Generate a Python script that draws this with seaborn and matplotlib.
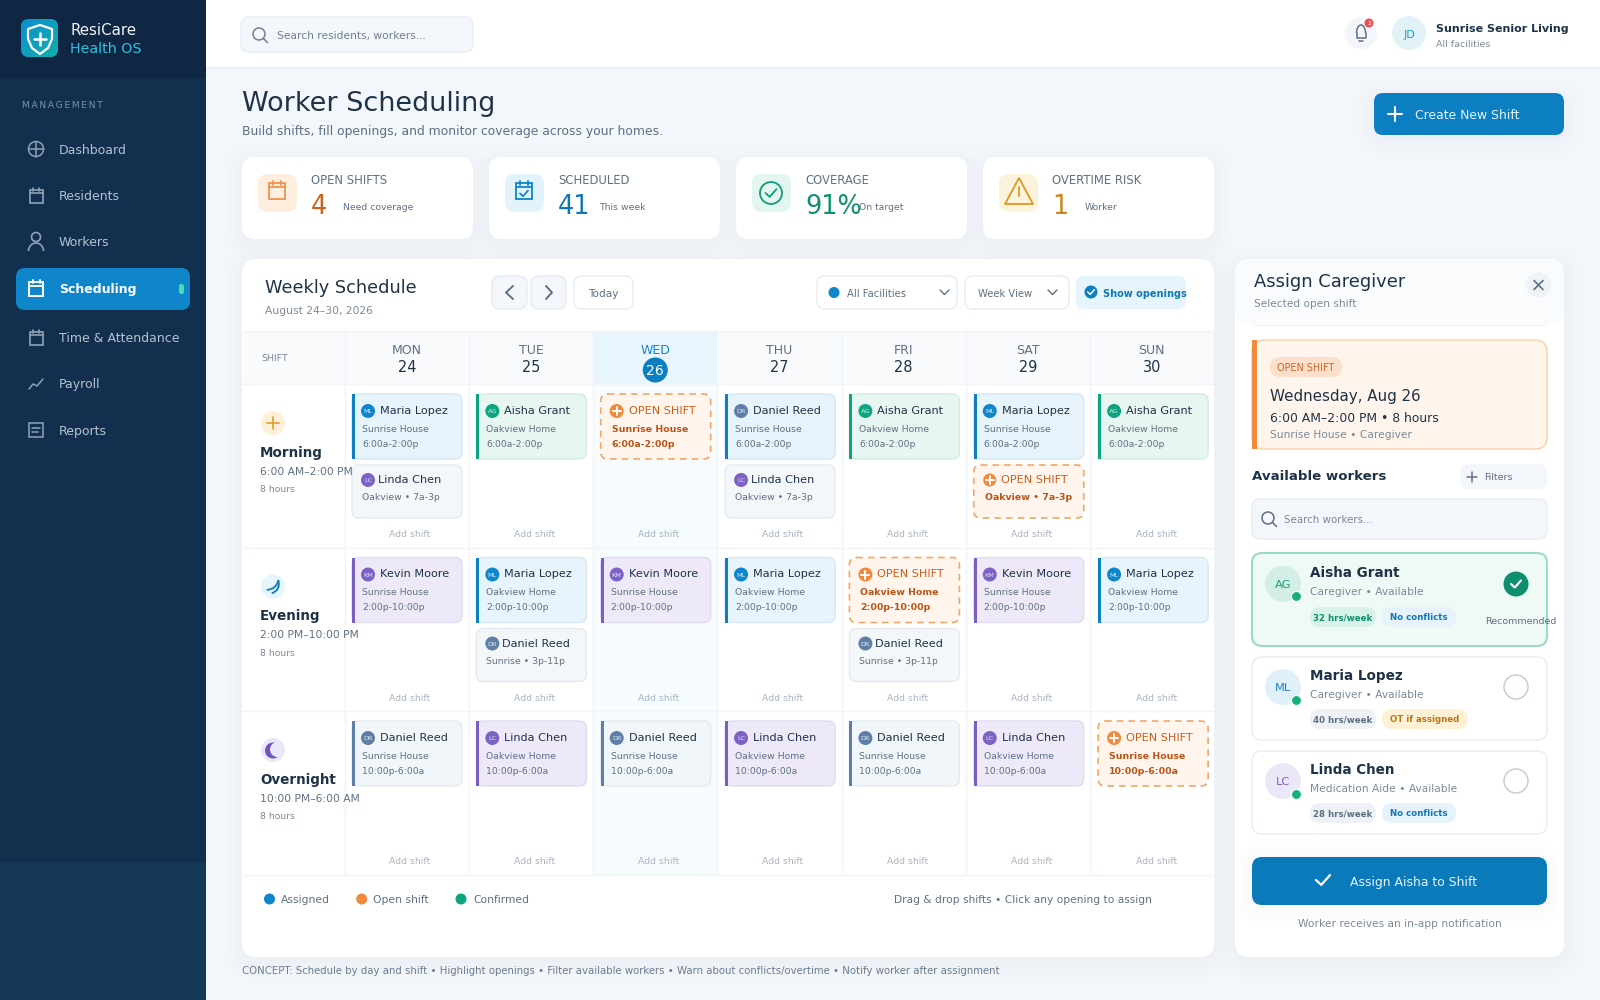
import numpy as np
import pandas as pd
import seaborn as sns
import matplotlib
matplotlib.use("Agg")
import matplotlib.pyplot as plt
from matplotlib.patches import FancyBboxPatch, Circle, Rectangle, Polygon, Arc, PathPatch
from matplotlib.path import Path

# ---- data ----
NAV_ITEMS = ["Dashboard", "Residents", "Workers", "Scheduling", "Time & Attendance", "Payroll", "Reports"]

KPI_LABELS = ["OPEN SHIFTS", "SCHEDULED", "COVERAGE", "OVERTIME RISK"]
KPI_VALUES = ["4", "41", "91%", "1"]
KPI_NOTES = ["Need coverage", "This week", "On target", "Worker"]

DAYS = ["MON", "TUE", "WED", "THU", "FRI", "SAT", "SUN"]
DATES = [24, 25, 26, 27, 28, 29, 30]

SHIFT_NAMES = ["Morning", "Evening", "Overnight"]
SHIFT_TIMES = ["6:00 AM–2:00 PM", "2:00 PM–10:00 PM", "10:00 PM–6:00 AM"]
SHIFT_HOURS = ["8 hours", "8 hours", "8 hours"]
SHIFT_SHORT = ["6:00a-2:00p", "2:00p-10:00p", "10:00p-6:00a"]

MORNING_WORKERS = ["Maria Lopez", "Aisha Grant", "OPEN", "Daniel Reed", "Aisha Grant", "Maria Lopez", "Aisha Grant"]
MORNING_SITES = ["Sunrise House", "Oakview Home", "Sunrise House", "Sunrise House", "Oakview Home", "Sunrise House", "Oakview Home"]
MORNING_EXTRA = ["Linda Chen", None, None, "Linda Chen", None, "OPEN", None]
MORNING_EXTRA_SUB = ["Oakview • 7a-3p", None, None, "Oakview • 7a-3p", None, "Oakview • 7a-3p", None]

EVENING_WORKERS = ["Kevin Moore", "Maria Lopez", "Kevin Moore", "Maria Lopez", "OPEN", "Kevin Moore", "Maria Lopez"]
EVENING_SITES = ["Sunrise House", "Oakview Home", "Sunrise House", "Oakview Home", "Oakview Home", "Sunrise House", "Oakview Home"]
EVENING_EXTRA = [None, "Daniel Reed", None, None, "Daniel Reed", None, None]
EVENING_EXTRA_SUB = [None, "Sunrise • 3p-11p", None, None, "Sunrise • 3p-11p", None, None]

NIGHT_WORKERS = ["Daniel Reed", "Linda Chen", "Daniel Reed", "Linda Chen", "Daniel Reed", "Linda Chen", "OPEN"]
NIGHT_SITES = ["Sunrise House", "Oakview Home", "Sunrise House", "Oakview Home", "Sunrise House", "Oakview Home", "Sunrise House"]
NIGHT_EXTRA = [None] * 7
NIGHT_EXTRA_SUB = [None] * 7

ALL_WORKERS = [MORNING_WORKERS, EVENING_WORKERS, NIGHT_WORKERS]
ALL_SITES = [MORNING_SITES, EVENING_SITES, NIGHT_SITES]
ALL_EXTRA = [MORNING_EXTRA, EVENING_EXTRA, NIGHT_EXTRA]
ALL_EXTRA_SUB = [MORNING_EXTRA_SUB, EVENING_EXTRA_SUB, NIGHT_EXTRA_SUB]

LEGEND_LABELS = ["Assigned", "Open shift", "Confirmed"]

PANEL_WORKERS = ["Aisha Grant", "Maria Lopez", "Linda Chen"]
PANEL_ROLES = ["Caregiver • Available", "Caregiver • Available", "Medication Aide • Available"]
PANEL_HOURS = ["32 hrs/week", "40 hrs/week", "28 hrs/week"]
PANEL_FLAGS = ["No conflicts", "OT if assigned", "No conflicts"]

# ---- colours ----
CARD_STYLE = {  # fill, border, bar
    "Maria Lopez": ("#e8f4fb", "#d3e8f4", "#0e7fc0"),
    "Aisha Grant": ("#e8f6f1", "#d3ece2", "#0ea47f"),
    "Kevin Moore": ("#ede9f8", "#e0daf2", "#7a5fc0"),
    "Linda Chen": ("#ede9f8", "#e0daf2", "#7a5fc0"),
    "Daniel Reed": ("#f1f6fa", "#e4eaf1", "#5f7fa8"),
}
AVATAR = {"Maria Lopez": "#0e86c9", "Aisha Grant": "#0ea47f", "Kevin Moore": "#7d62c4",
          "Linda Chen": "#7d62c4", "Daniel Reed": "#5f7fa8"}
DARK = "#1f3347"
GRAY = "#5e7082"
LIGHT = "#7b8a99"
ORANGE = "#f08a3c"
BLUE = "#0b7fc1"
GRID = "#f0f3f7"

sns.set_theme(style="white")
plt.rcParams["font.family"] = "DejaVu Sans"

fig = plt.figure(figsize=(16, 10), dpi=100)
ax = fig.add_axes([0, 0, 1, 1])
ax.set_xlim(0, 1600)
ax.set_ylim(1000, 0)
ax.set_axis_off()
ax.autoscale(False)


def txt(x, y, s, px=12, color=DARK, weight="normal", ha="left", z=4):
    # y is the middle of the capitals, size in pixels
    ax.text(x, y + 0.365 * px, s, fontsize=px * 0.72, color=color, fontweight=weight,
            ha=ha, va="baseline", zorder=z)


def box(x0, y0, x1, y1, r=8, fc="white", ec="none", lw=1, ls="-", z=1, alpha=None):
    p = FancyBboxPatch((x0, y0), x1 - x0, y1 - y0, boxstyle=f"round,pad=0,rounding_size={r}",
                       fc=fc, ec=ec, lw=lw, ls=ls, zorder=z, alpha=alpha)
    ax.add_patch(p)
    return p


def shadow(x0, y0, x1, y1, r=14, dy=5):
    for k in range(16, 0, -3):
        box(x0 - k, y0 - k + dy, x1 + k, y1 + k + dy, r=r + k, fc="#1f3a5a", alpha=0.005, z=1)


def rect(x0, y0, x1, y1, fc, z=1):
    ax.add_patch(Rectangle((x0, y0), x1 - x0, y1 - y0, fc=fc, ec="none", zorder=z))


def circ(x, y, r, fc="none", ec="none", lw=1, z=2):
    ax.add_patch(Circle((x, y), r, fc=fc, ec=ec, lw=lw, zorder=z))


def line(xs, ys, color, lw=1.3, z=3, ls="-"):
    ax.plot(xs, ys, color=color, lw=lw, zorder=z, ls=ls, solid_capstyle="round", solid_joinstyle="round")


def plus(x, y, h, color, lw=1.3, z=3):
    line([x - h, x + h], [y, y], color, lw, z)
    line([x, x], [y - h, y + h], color, lw, z)


def check(x, y, h, color, lw=1.5, z=3):
    line([x - h, x - h * 0.25, x + h], [y, y + h * 0.7, y - h * 0.7], color, lw, z)


def calendar(x, y, h, color, lw=1.2, ticked=False):
    ax.add_patch(Rectangle((x - h, y - h), 2 * h, 2 * h, fc="none", ec=color, lw=lw, zorder=3))
    line([x - h, x + h], [y - h * 0.45, y - h * 0.45], color, lw)
    line([x - h * 0.5, x - h * 0.5], [y - h * 1.3, y - h * 0.8], color, lw)
    line([x + h * 0.5, x + h * 0.5], [y - h * 1.3, y - h * 0.8], color, lw)
    if ticked:
        check(x, y + h * 0.3, h * 0.5, color, lw)


def magnifier(x, y, color):
    circ(x - 1, y - 1, 6, ec=color, lw=1.1, z=3)
    line([x + 3.5, x + 7.5], [y + 3.5, y + 7.5], color, 1.1)


def pill(x0, y0, x1, y1, s, fc, color, px=8.6, weight="bold"):
    box(x0, y0, x1, y1, r=(y1 - y0) / 2, fc=fc, z=2)
    txt((x0 + x1) / 2, (y0 + y1) / 2, s, px=px, color=color, weight=weight, ha="center")


def initials(name):
    return "".join(part[0] for part in name.split())


# ---- page and sidebar ----
rect(0, 0, 1600, 1000, "#f3f6fa", z=0)
rect(0, 0, 206, 1000, "#122f4e", z=1)
rect(0, 0, 206, 78, "#0f2742", z=1)
rect(0, 862, 206, 1000, "#153758", z=1)

logo = box(21, 19, 58, 57, r=8, fc="#0b9fc4", z=2)
grad = np.linspace(0, 1, 64)[None, :] + np.linspace(0, 1, 64)[:, None]
im = ax.imshow(grad, extent=(21, 58, 57, 19), cmap=matplotlib.colors.LinearSegmentedColormap.from_list(
    "logo", ["#0a8fd0", "#12b0a8"]), aspect="auto", zorder=2)
im.set_clip_path(logo)
ax.set_xlim(0, 1600)
ax.set_ylim(1000, 0)
shield_x = np.array([40, 52, 52, 48, 40, 32, 28, 28])
shield_y = np.array([25, 29, 39, 48, 54, 48, 39, 29])
ax.add_patch(Polygon(np.c_[shield_x, shield_y], closed=True, fc="none", ec="white", lw=1.6, zorder=3, joinstyle="round"))
plus(40, 38.5, 6, "white", 1.8)
txt(70, 30, "ResiCare", px=15, color="#eef5fa")
txt(70, 48, "Health OS", px=14.3, color="#35bfe0")
txt(22, 105, "\u2009".join("MANAGEMENT"), px=9, color="#7c93a8")

nav_y = [149, 195, 241.5, 288.5, 337.5, 383.5, 430]
box(16, 268, 190, 310, r=9, fc="#0e86c9", z=2)
box(179, 284, 184, 294, r=2, fc="#45dcb0", z=3)
for name, y in zip(NAV_ITEMS, nav_y):
    active = name == "Scheduling"
    col = "white" if active else "#b4c3d1"
    txt(59, y, name, px=12.5, color=col, weight="bold" if active else "normal")
ic = "#8fa3b5"
circ(36, 149, 7.5, ec=ic, lw=1.1, z=3)
plus(36, 149, 7.5, ic, 1.1)
calendar(36, 196, 6.5, ic)
circ(36, 237, 4.5, ec=ic, lw=1.2, z=3)
ax.add_patch(Arc((36, 251), 15, 16, theta1=180, theta2=360, ec=ic, lw=1.2, zorder=3))
calendar(36, 289, 7, "white", 1.4)
calendar(36, 338, 6.5, ic)
line([29, 33, 37, 43], [389, 384, 386, 379], ic, 1.1)
ax.add_patch(Rectangle((29, 423), 14, 14, fc="none", ec=ic, lw=1.1, zorder=3))
line([32, 40], [428, 428], ic, 1.1)
line([32, 38], [432, 432], ic, 1.1)

# ---- top bar ----
rect(206, 0, 1600, 67, "white", z=1)
rect(206, 67, 1600, 69, "#ecf0f5", z=1)
box(241, 17, 473, 52, r=8, fc="#f3f6fa", ec="#e8edf3", z=2)
magnifier(260, 35, "#6f8090")
txt(277, 35, "Search residents, workers...", px=10.6, color="#6f8090")
circ(1361, 33, 16, fc="#f3f6fa")
ax.add_patch(Arc((1361, 33), 9, 16, theta1=180, theta2=360, ec=GRAY, lw=1.1, zorder=3))
line([1356.5, 1356.5, 1365.5, 1365.5], [33, 38, 38, 33], GRAY, 1.1)
line([1359, 1363], [40.5, 40.5], GRAY, 1.1)
circ(1369, 23, 4.5, fc="#ea4f4f", z=3)
txt(1369, 23, "2", px=6, color="white", ha="center")
circ(1409, 33, 17, fc="#e2f3f8")
txt(1409, 34, "JD", px=11, color="#1f9ac4", ha="center")
txt(1436, 28, "Sunrise Senior Living", px=11.1, color=DARK, weight="bold")
txt(1436, 44, "All facilities", px=9.5, color=LIGHT)

txt(242, 101, "Worker Scheduling", px=27, color=DARK)
txt(242, 130, "Build shifts, fill openings, and monitor coverage across your homes.", px=12.4, color=GRAY)
shadow(1374, 93, 1564, 135, r=9, dy=3)
box(1374, 93, 1564, 135, r=9, fc=BLUE, z=2)
plus(1395, 114, 7, "white", 1.5)
txt(1415, 114, "Create New Shift", px=12.4, color="#e5f3fb")

# ---- KPI cards ----
kpi_x0 = [242, 489, 736, 983]
kpi_note_x = [343, 599, 859, 1085]
kpi_col = ["#c8621f", "#0e78b5", "#0f8f74", "#c9861a"]
kpi_bg = ["#fdeee0", "#e3f3fb", "#e3f5ef", "#fdf3dc"]
for i in range(4):
    x0 = kpi_x0[i]
    shadow(x0, 157, x0 + 231, 239)
    box(x0, 157, x0 + 231, 239, r=13, fc="white", z=2)
    box(x0 + 16, 174, x0 + 55, 212, r=10, fc=kpi_bg[i], z=2)
    txt(x0 + 69, 180, KPI_LABELS[i], px=11.6, color=GRAY)
    txt(x0 + 69, 205, KPI_VALUES[i], px=25.5, color=kpi_col[i])
    txt(kpi_note_x[i], 207, KPI_NOTES[i], px=9.3, color=GRAY)
calendar(277, 191, 8, "#ee9350", 1.3)
calendar(524, 191, 8, "#0e86c9", 1.3, ticked=True)
circ(771, 193, 11, ec="#129a7c", lw=1.3, z=3)
check(771, 193, 5.5, "#129a7c", 1.3)
ax.add_patch(Polygon([[1019, 178], [1033, 204], [1005, 204]], closed=True, fc="none", ec="#d99a22", lw=1.3, zorder=3, joinstyle="round"))
line([1019, 1019], [187, 196], "#d99a22", 1.3)
line([1019, 1019], [200, 200.3], "#d99a22", 1.3)

# ---- weekly schedule panel ----
shadow(242, 259, 1214, 957)
box(242, 259, 1214, 957, r=14, fc="white", z=1)
txt(265, 287, "Weekly Schedule", px=17.7, color=DARK)
txt(265, 310, "August 24–30, 2026", px=10.7, color=LIGHT)
box(492, 276, 527, 309, r=8, fc="#f3f6fa", ec="#e6ebf1", z=2)
box(531, 276, 566, 309, r=8, fc="#f3f6fa", ec="#e6ebf1", z=2)
box(574, 276, 633, 309, r=8, fc="white", ec="#e6ebf1", z=2)
line([513, 506, 513], [286, 292.5, 299], GRAY, 1.4)
line([546, 552, 546], [286, 292.5, 299], GRAY, 1.4)
txt(603.5, 293, "Today", px=10.5, color=GRAY, ha="center")
box(817, 276, 957, 309, r=8, fc="white", ec="#e6ebf1", z=2)
box(965, 276, 1069, 309, r=8, fc="white", ec="#e6ebf1", z=2)
box(1076, 276, 1186, 309, r=8, fc="#e6f4fb", z=2)
circ(834, 292.5, 5.5, fc="#0e86c9", z=3)
txt(847, 293, "All Facilities", px=10, color=GRAY)
txt(978, 293, "Week View", px=10, color=GRAY)
line([940, 944.5, 949], [290, 294.5, 290], GRAY, 1)
line([1048, 1052.5, 1057], [290, 294.5, 290], GRAY, 1)
circ(1091, 292, 6.5, fc=BLUE, z=3)
check(1091, 292, 3.3, "white", 1.1, z=4)
txt(1103, 293, "Show openings", px=9.8, color="#0e78b5", weight="bold")

# grid
col_x = 345 + 124.14 * np.arange(8)
card_x = 352 + 124.35 * np.arange(7)
row_y = [384, 547.5, 711, 875]
rect(243, 331, 1214, 384, "#f8fafc", z=1)
rect(col_x[2], 331, col_x[3], 384, "#e9f5fc", z=1)
rect(col_x[2], 384, col_x[3], 875, "#f6fbfe", z=1)
line([243, 1214], [331, 331], GRID, 1, z=2)
for y in row_y:
    line([243, 1214], [y, y], GRID, 1, z=2)
for x in col_x[:-1]:
    line([x, x], [331, 875], GRID, 1, z=2)
txt(261, 358, "SHIFT", px=9.5, color=LIGHT)
for i, (d, n) in enumerate(zip(DAYS, DATES)):
    cx = col_x[i] + 62
    today = d == "WED"
    txt(cx, 349, d, px=12.5, color="#0e86c9" if today else GRAY, ha="center")
    if today:
        circ(cx, 370, 12.5, fc=BLUE)
        txt(cx, 370, str(n), px=14, color="white", ha="center")
    else:
        txt(cx, 367, str(n), px=14.5, color=DARK, ha="center")

# row labels
icon_bg = ["#fdf0d9", "#e6f4fb", "#ece7f8"]
for r in range(3):
    dy = row_y[r] - row_y[0]
    circ(273, 423 + dy, 12, fc=icon_bg[r])
    txt(260, 452 + dy, SHIFT_NAMES[r], px=13.5, color=DARK, weight="bold")
    txt(260, 471 + dy, SHIFT_TIMES[r], px=10.7, color=GRAY)
    txt(260, 489 + dy, SHIFT_HOURS[r], px=9.3, color=LIGHT)
plus(273, 423, 6, "#e6a23c", 1.3)
for p0, p1, p2 in [((278.3, 580), (277, 589), (266.7, 590)), ((278.3, 580), (281, 590), (271.7, 593.3))]:
    ax.add_patch(PathPatch(Path([p0, p1, p2], [Path.MOVETO, Path.CURVE3, Path.CURVE3]),
                           fc="none", ec="#1f7fb8", lw=1.4, zorder=3))
circ(273, 750.5, 8, fc="#6d55b8", z=3)
circ(277.5, 749.5, 7.5, fc=icon_bg[2], z=3)

# shift cards
avatar_rows = []
for r in range(3):
    dy = row_y[r] - row_y[0]
    for c in range(7):
        x0 = card_x[c]
        x1 = x0 + 110
        who = ALL_WORKERS[r][c]
        top = 394 + dy
        if who == "OPEN":
            box(x0, top, x1, top + 65, r=7, fc="#fff5ec", ec="#f0a868", lw=1.2, ls=(0, (4, 3)), z=2)
            circ(x0 + 16, top + 17, 7, fc=ORANGE, z=3)
            plus(x0 + 16, top + 17, 4, "white", 1.4, z=4)
            txt(x0 + 28, top + 15.5, "OPEN SHIFT", px=11.2, color="#c4601e")
            txt(x0 + 11, top + 34.5, ALL_SITES[r][c], px=9.4, color="#b8561a", weight="bold")
            txt(x0 + 11, top + 49.5, SHIFT_SHORT[r], px=9.4, color="#b8561a", weight="bold")
        else:
            fc, ec, bar = CARD_STYLE[who]
            if r == 0 and c == 3:  # this Daniel card is blue in the picture
                fc, ec, bar = CARD_STYLE["Maria Lopez"]
            box(x0, top, x1, top + 65, r=7, fc=fc, ec=ec, z=2)
            rect(x0, top, x0 + 3, top + 65, bar, z=3)
            avatar_rows.append((x0 + 16, top + 17, who))
            txt(x0 + 16, top + 17, initials(who), px=6.5, color="#d8e8f2", ha="center")
            txt(x0 + 28, top + 15.5, who, px=11.2, color=DARK)
            txt(x0 + 10, top + 34.5, ALL_SITES[r][c], px=9.3, color=GRAY)
            txt(x0 + 10, top + 49.5, SHIFT_SHORT[r], px=9.3, color=GRAY)
        extra = ALL_EXTRA[r][c]
        top2 = top + 71
        if extra == "OPEN":
            box(x0, top2, x1, top2 + 53, r=7, fc="#fff5ec", ec="#f0a868", lw=1.2, ls=(0, (4, 3)), z=2)
            circ(x0 + 16, top2 + 15, 6.5, fc=ORANGE, z=3)
            plus(x0 + 16, top2 + 15, 3.8, "white", 1.4, z=4)
            txt(x0 + 27, top2 + 14, "OPEN SHIFT", px=11.2, color="#c4601e")
            txt(x0 + 11, top2 + 32, ALL_EXTRA_SUB[r][c], px=9.4, color="#b8561a", weight="bold")
        elif extra:
            box(x0, top2, x1, top2 + 53, r=7, fc="#f3f7fa", ec="#e4eaf1", z=2)
            avatar_rows.append((x0 + 16, top2 + 15, extra))
            txt(x0 + 16, top2 + 15, initials(extra), px=6.5, color="#d8e8f2", ha="center")
            txt(x0 + 26, top2 + 14, extra, px=11.2, color=DARK)
            txt(x0 + 10, top2 + 32, ALL_EXTRA_SUB[r][c], px=9.3, color=GRAY)
        txt(x0 + 58, 534 + dy, "Add shift", px=9.3, color="#a9b4c0", ha="center")

avatars = pd.DataFrame(avatar_rows, columns=["x", "y", "who"])
sns.scatterplot(data=avatars, x="x", y="y", hue="who", palette=AVATAR, s=(14 * 0.72) ** 2,
                linewidth=0, legend=False, ax=ax, zorder=3)

# legend under the grid
legend_df = pd.DataFrame({"x": [269.5, 361.7, 461], "y": [899, 899, 899], "label": LEGEND_LABELS})
sns.scatterplot(data=legend_df, x="x", y="y", hue="label",
                palette=dict(zip(LEGEND_LABELS, ["#0e86c9", ORANGE, "#0ea47f"])),
                s=(11 * 0.72) ** 2, linewidth=0, legend=False, ax=ax, zorder=3)
for x, s in zip([281, 373, 473], LEGEND_LABELS):
    txt(x, 899, s, px=10.8, color=GRAY)
txt(894, 899, "Drag & drop shifts • Click any opening to assign", px=10.6, color=GRAY)
txt(242, 970, "CONCEPT: Schedule by day and shift • Highlight openings • Filter available workers • Warn about conflicts/overtime • Notify worker after assignment",
    px=10.1, color="#6b7c8f")

# ---- assign panel ----
shadow(1235, 259, 1564, 957)
box(1235, 259, 1564, 957, r=14, fc="white", z=1)
box(1235, 259, 1564, 324, r=14, fc="#f9fbfd", z=1)
line([1252, 1547], [324.5, 324.5], GRID, 1, z=2)
txt(1254, 280, "Assign Caregiver", px=17.9, color=DARK)
txt(1254, 303, "Selected open shift", px=10.5, color=LIGHT)
circ(1538.5, 285, 12.5, fc="#eff3f7")
line([1534, 1543], [280.5, 289.5], GRAY, 1.2)
line([1534, 1543], [289.5, 280.5], GRAY, 1.2)

box(1252, 340, 1547, 449, r=12, fc="#fff5ec", ec="#f6cfa9", z=2)
rect(1252, 340, 1257, 449, ORANGE, z=3)
pill(1270, 357, 1342, 377, "OPEN SHIFT", "#fbdfca", "#c4682c", px=9.6, weight="normal")
txt(1270, 395.5, "Wednesday, Aug 26", px=15.1, color=DARK)
txt(1270, 417, "6:00 AM–2:00 PM • 8 hours", px=12.4, color=DARK)
txt(1270, 434, "Sunrise House • Caregiver", px=10.6, color=LIGHT)
txt(1252, 475, "Available workers", px=13.4, color=DARK, weight="bold")
box(1460, 464, 1547, 489, r=8, fc="#f3f6fa", z=2)
plus(1472, 477, 5, GRAY, 1.1)
txt(1484, 477, "Filters", px=9.5, color=GRAY)
box(1252, 499, 1547, 539, r=8, fc="#f3f6fa", ec="#e8edf3", z=2)
magnifier(1269, 519, GRAY)
txt(1284, 519, "Search workers...", px=10.3, color=LIGHT)

card_tops = [553, 657, 751]
card_bottoms = [646, 740, 834]
card_shift = [0.7, 0, 0]  # first card sits a little lower inside its frame
pill_top = [54, 52, 52]
avatar_bg = ["#d3efe5", "#e0f0f9", "#ece7f8"]
avatar_fg = ["#16a085", "#1f82bd", "#7d62c4"]
hour_bg = ["#d8f2e8", "#eef2f6", "#eef2f6"]
hour_fg = ["#0f8f6e", GRAY, GRAY]
flag_bg = ["#e6f3fb", "#fff1d6", "#e6f3fb"]
flag_fg = ["#0e78b5", "#b57a14", "#0e78b5"]
flag_x1 = [1456, 1468, 1456]
status = []
for i in range(3):
    t, b = card_tops[i], card_bottoms[i]
    s = card_shift[i]
    if i == 0:
        box(1252, t, 1547, b, r=10, fc="#eff9f6", ec="#9adcc3", lw=1.5, z=2)
    else:
        box(1252, t, 1547, b, r=10, fc="white", ec="#e8edf3", z=2)
    circ(1283, t + 30 + s, 18, fc=avatar_bg[i], z=2)
    txt(1283, t + 30 + s, initials(PANEL_WORKERS[i]), px=11.5, color=avatar_fg[i], ha="center")
    status.append((1295.5, t + 42.5 + s, PANEL_WORKERS[i]))
    txt(1310, t + 18.5 + s, PANEL_WORKERS[i], px=13.5, color=DARK, weight="bold")
    txt(1310, t + 37.5 + s, PANEL_ROLES[i], px=10.6, color=LIGHT)
    pill(1310, t + pill_top[i], 1376, t + pill_top[i] + 20, PANEL_HOURS[i], hour_bg[i], hour_fg[i])
    pill(1382, t + pill_top[i], flag_x1[i], t + pill_top[i] + 20, PANEL_FLAGS[i], flag_bg[i], flag_fg[i])
    if i == 0:
        circ(1516, t + 31, 12.5, fc="#0f8f6e")
        check(1516, t + 31, 5, "white", 1.5)
    else:
        circ(1516, t + 30, 12, fc="white", ec="#c6ced6", lw=1.1)
txt(1485, 621, "Recommended", px=9.5, color=GRAY)
status_df = pd.DataFrame(status, columns=["x", "y", "who"])
sns.scatterplot(data=status_df, x="x", y="y", color="#16b07f", s=(10 * 0.72) ** 2,
                edgecolor="white", linewidth=0.8, legend=False, ax=ax, zorder=3)

shadow(1252, 857, 1547, 905, r=10, dy=3)
box(1252, 857, 1547, 905, r=10, fc="#0b7abb", z=2)
check(1323, 880, 7, "white", 1.6)
txt(1350, 881, "Assign Aisha to Shift", px=12.4, color="#e5f3fb")
txt(1399.5, 923, "Worker receives an in-app notification", px=10.6, color=LIGHT, ha="center")

ax.set_xlim(0, 1600)
ax.set_ylim(1000, 0)
ax.set_xlabel("")
ax.set_ylabel("")
fig.savefig("out.png", dpi=100)
